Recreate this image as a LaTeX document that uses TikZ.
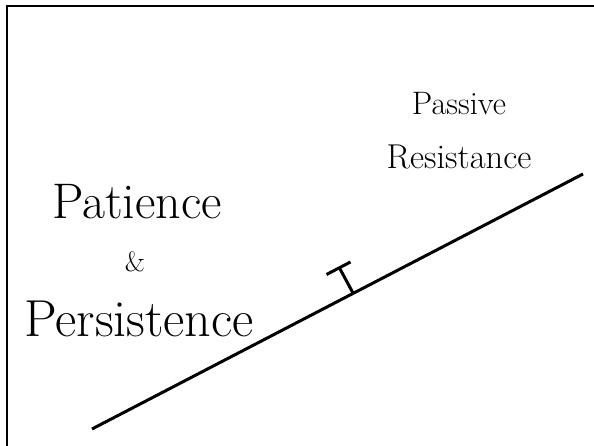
\documentclass[tikz,border=0pt]{standalone}
\usepackage{fontspec}
\begin{document}
\begin{tikzpicture}[x=1pt,y=1pt,
  lbl/.style={inner sep=0pt,anchor=base},
  rule/.style={line width=3pt},
  frame/.style={line width=2.4pt}]
\useasboundingbox (0,0) rectangle (594,446);
% frame (only top and left edges visible)
\coordinate (fbl) at (7,-5);
\coordinate (ftl) at (7,439.8);
\coordinate (ftr) at (600,439.8);
\draw[frame] (fbl) -- (ftl) -- (ftr);
% texts
\node[lbl] (pat) at (137,227) {\fontsize{50}{54}\selectfont Patience};
\node[lbl] (amp) at (135,174) {\fontsize{28}{30}\selectfont\&};
\node[lbl] (per) at (139,109) {\fontsize{52}{56}\selectfont Persistence};
\node[lbl] (pas) at (459,331) {\fontsize{32.5}{36}\selectfont Passive};
\node[lbl] (res) at (459,277) {\fontsize{34.5}{38}\selectfont Resistance};
% sloped line
\coordinate (a) at (92,17);
\coordinate (b) at (583,272);
\draw[rule] (a) -- (b);
% T mark
\coordinate (tb) at (353,153);
\coordinate (tt) at (339.5,178);
\coordinate (c1) at (326.5,171.5);
\coordinate (c2) at (350.5,184);
\draw[rule] (tb) -- (tt);
\draw[rule] (c1) -- (c2);
\end{tikzpicture}
\end{document}
